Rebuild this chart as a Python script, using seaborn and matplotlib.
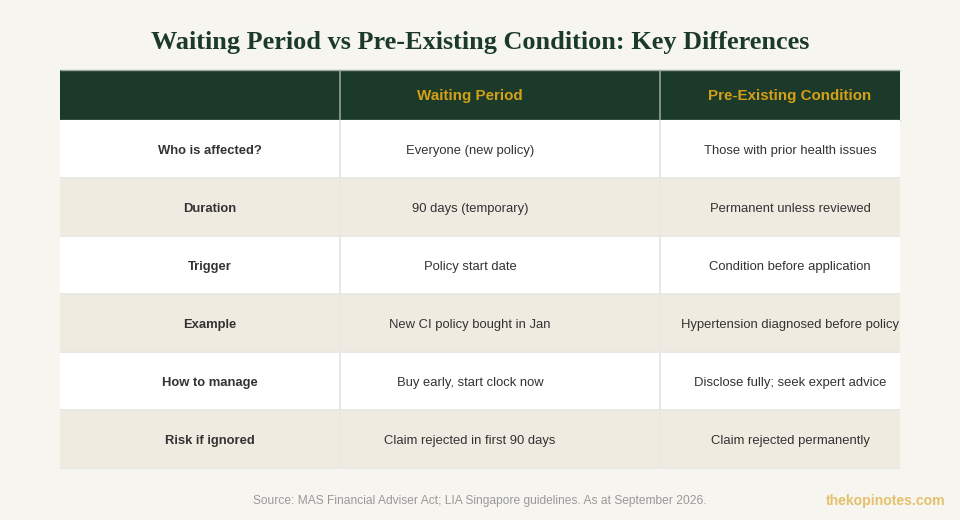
import matplotlib.pyplot as plt
from matplotlib.colors import ListedColormap
import numpy as np
import seaborn as sns

sns.set_theme(style="white")
plt.rcParams['font.family'] = ['Liberation Sans', 'DejaVu Sans']

title = "Waiting Period vs Pre-Existing Condition: Key Differences"
columns = ["", "Waiting Period", "Pre-Existing Condition"]
row_labels = ["Who is affected?", "Duration", "Trigger", "Example", "How to manage", "Risk if ignored"]
waiting = ["Everyone (new policy)", "90 days (temporary)", "Policy start date",
           "New CI policy bought in Jan", "Buy early, start clock now", "Claim rejected in first 90 days"]
pre_existing = ["Those with prior health issues", "Permanent unless reviewed", "Condition before application",
                "Hypertension diagnosed before policy", "Disclose fully; seek expert advice", "Claim rejected permanently"]
source = "Source: MAS Financial Adviser Act; LIA Singapore guidelines. As at September 2026."
site = "thekopinotes.com"

BG = "#F7F5F0"
GREEN = "#1B3A2A"
GOLD = "#D4A017"
STRIPE = "#EFEBE0"
INK = "#333333"

# table area in figure pixels
W, H = 960, 520
left, right, top, head_bot, bottom = 60, 900, 70, 120, 468
col_lines = [(340 - left) / (right - left), (660 - left) / (right - left)]
text_x = [(210 - left) / (right - left), (470 - left) / (right - left), (790 - left) / (right - left)]
width = (right - left) / W

fig = plt.figure(figsize=(9.6, 5.2), dpi=100, facecolor=BG)

# header band
ax_h = fig.add_axes([left / W, 1 - head_bot / H, width, (head_bot - top) / H])
sns.heatmap(np.zeros((1, 1)), ax=ax_h, cmap=ListedColormap([GREEN]), cbar=False,
            xticklabels=False, yticklabels=False)
for x, name in zip(text_x, columns):
    ax_h.text(x, 0.51, name, ha="center", va="center", color=GOLD,
              fontsize=10.9, fontweight="bold")
ax_h.vlines(col_lines, 0, 1, color="#7F8F86", lw=1.44)
ax_h.hlines([0, 1], 0, 1, color="#9AA69F", lw=1.0, clip_on=False)

# body rows, striped by row index
shade = np.arange(len(row_labels)).reshape(-1, 1) % 2
ax_b = fig.add_axes([left / W, 1 - bottom / H, width, (bottom - head_bot) / H])
sns.heatmap(shade, ax=ax_b, cmap=ListedColormap(["#FFFFFF", STRIPE]), cbar=False,
            xticklabels=False, yticklabels=False)
ax_b.vlines(col_lines, 0, len(row_labels), color="#E9E8E4", lw=1.44)
ax_b.hlines(np.arange(1, len(row_labels) + 1), 0, 1, color="#E9E8E4", lw=1.44, clip_on=False)
for i, (a, b, c) in enumerate(zip(row_labels, waiting, pre_existing)):
    y = i + 0.535
    ax_b.text(text_x[0], y, a, ha="center", va="center", color=INK, fontsize=9.4, fontweight="bold")
    ax_b.text(text_x[1], y, b, ha="center", va="center", color=INK, fontsize=9.4)
    ax_b.text(text_x[2], y, c, ha="center", va="center", color=INK, fontsize=9.4)

fig.text(0.5, 1 - 42 / H, title, ha="center", va="center", color=GREEN,
         fontsize=18.9, fontweight="bold", family=["Liberation Serif", "DejaVu Serif"])
fig.text(480 / W, 1 - 501 / H, source, ha="center", va="center", color="#999999", fontsize=8.67)
fig.text(945 / W, 1 - 501 / H, site, ha="right", va="center", color="#E5C06A",
         fontsize=10.1, fontweight="bold")

fig.savefig("out.png", dpi=100, facecolor=BG)
